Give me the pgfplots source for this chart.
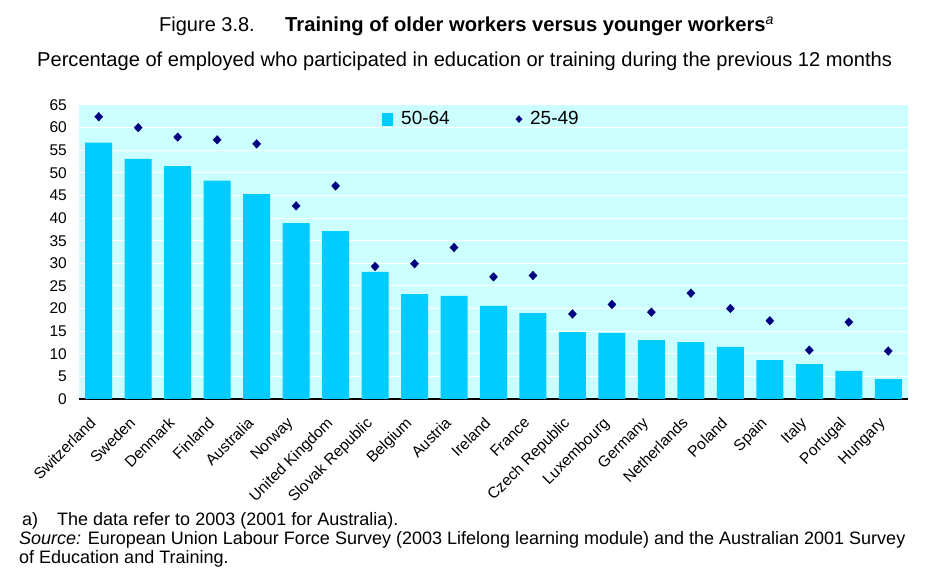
\documentclass[border=0pt]{standalone}
\usepackage{fontspec}
\setmainfont{Liberation Sans}
\usepackage{pgfplots}
\pgfplotsset{compat=1.18}
\definecolor{barcyan}{HTML}{00CCFF}
\definecolor{bgcyan}{HTML}{CCFFFF}
\definecolor{navy}{HTML}{000080}
\pgfplotsset{
  barlegend/.style={legend image code/.code={\fill[barcyan] (0pt,-6.5pt) rectangle (11pt,6.5pt);}},
  diamlegend/.style={legend image code/.code={\draw[##1, mark size=3.4pt] plot[only marks] coordinates {(4pt,0pt)};}},
}
\begin{document}
\begin{tikzpicture}[x=1pt,y=1pt]
\useasboundingbox (0,0) rectangle (928,586);
% titles
\node[anchor=base east, inner sep=0pt, font=\fontsize{20}{24}\selectfont] at (255,554) {Figure 3.8.};
\node[anchor=base west, inner sep=0pt, font=\fontsize{20.2}{24}\selectfont\bfseries] at (285,554) {Training of older workers versus younger workers\textsuperscript{\normalfont\itshape a}};
\node[anchor=base west, inner sep=0pt, font=\fontsize{20.1}{24}\selectfont] at (37,519) {Percentage of employed who participated in education or training during the previous 12 months};
% footnotes
\node[anchor=base west, inner sep=0pt, font=\fontsize{18}{20}\selectfont] at (22,61) {a)};
\node[anchor=base west, inner sep=0pt, font=\fontsize{18}{20}\selectfont] at (57,61) {The data refer to 2003 (2001 for Australia).};
\node[anchor=base west, inner sep=0pt, font=\fontsize{18}{20}\selectfont] at (19,42) {\textit{Source:} European Union Labour Force Survey (2003 Lifelong learning module) and the Australian 2001 Survey};
\node[anchor=base west, inner sep=0pt, font=\fontsize{18}{20}\selectfont] at (19,23) {of Education and Training.};
\begin{axis}[
  at={(79pt,187pt)}, anchor=south west,
  scale only axis, width=829pt, height=294pt,
  xmin=-0.5, xmax=20.5, ymin=0, ymax=65,
  ytick={0,5,...,65},
  xtick={0,...,20},
  xticklabels={Switzerland,Sweden,Denmark,Finland,Australia,Norway,United Kingdom,Slovak Republic,Belgium,Austria,Ireland,France,Czech Republic,Luxembourg,Germany,Netherlands,Poland,Spain,Italy,Portugal,Hungary},
  major tick length=0pt,
  /pgf/number format/assume math mode=true,
  yticklabel style={font=\fontsize{15.5}{18}\selectfont, anchor=east, inner sep=0pt, xshift=-12pt},
  xticklabel style={font=\fontsize{15.5}{18}\selectfont, inner sep=0pt, xshift=-10pt, yshift=-17pt, rotate=45, anchor=north east},
  axis background/.style={fill=bgcyan},
  ymajorgrids, grid style={white, line width=1pt},
  separate axis lines,
  axis x line*=bottom, axis y line*=left,
  x axis line style={black, line width=1.2pt},
  y axis line style={draw=none},
  legend style={draw=none, fill=none, inner sep=0pt, legend columns=2,
    at={(0.3655,0.952)}, anchor=west,
    font=\fontsize{19}{22}\selectfont,
    /tikz/every odd column/.append style={column sep=6pt},
    /tikz/every even column/.append style={column sep=64pt}},
  clip=false,
]
\addplot[ybar, bar width=27pt, fill=barcyan, draw=none, bar shift=0pt, barlegend]
coordinates {(0,56.7) (1,53.1) (2,51.5) (3,48.3) (4,45.3) (5,38.9) (6,37.1) (7,28.1) (8,23.2) (9,22.8)
 (10,20.6) (11,19.0) (12,14.8) (13,14.6) (14,13.0) (15,12.6) (16,11.5) (17,8.6) (18,7.7) (19,6.2) (20,4.4)};
\addlegendentry{50-64}
\addplot[only marks, mark=diamond*, mark size=4.3pt, color=navy, mark options={xscale=1.25, fill=navy, draw=navy}, diamlegend]
coordinates {(0,62.4) (1,60.0) (2,57.9) (3,57.3) (4,56.4) (5,42.7) (6,47.1) (7,29.3) (8,29.9) (9,33.5)
 (10,27.0) (11,27.3) (12,18.8) (13,20.9) (14,19.2) (15,23.4) (16,20.0) (17,17.3) (18,10.8) (19,17.0) (20,10.6)};
\addlegendentry{25-49}
\end{axis}
\end{tikzpicture}
\end{document}
